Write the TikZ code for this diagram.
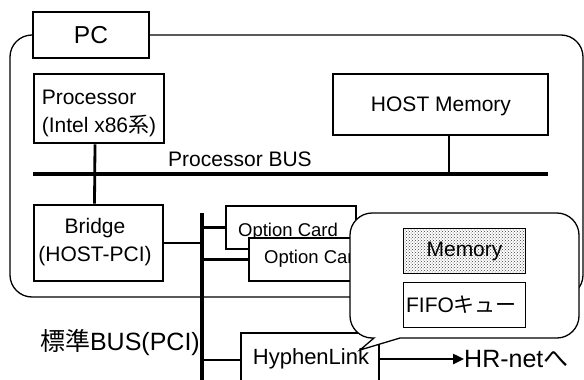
\documentclass[tikz,border=0pt]{standalone}
\usepackage{fontspec}
\setmainfont{Liberation Sans}
\newfontfamily\jpfont{Noto Sans CJK JP}
\usetikzlibrary{patterns,arrows.meta}

\begin{document}
\begin{tikzpicture}[x=1pt,y=-1pt,
  frame/.style={draw, line width=1.3pt},
  hwbox/.style={draw, line width=2.7pt, fill=white, inner sep=0pt},
  subbox/.style={draw, line width=1.6pt, inner sep=0pt},
  bus/.style={line width=4.5pt},
  link/.style={line width=2.8pt},
  txt/.style={inner sep=0pt, font=\fontsize{21}{28}\selectfont},
  small/.style={inner sep=0pt, font=\fontsize{18.5}{22}\selectfont},
  big/.style={inner sep=0pt, font=\fontsize{25}{30}\selectfont},
]
\useasboundingbox (0,0) rectangle (584,380);

% PC enclosure and its tab
\node[frame, rounded corners=22pt, minimum width=573pt, minimum height=262pt] (pc) at (296.5,166) {};
\node[draw, line width=1.5pt, fill=white, minimum width=116pt, minimum height=46pt, inner sep=0pt,
      font=\fontsize{24.5}{28}\selectfont] (pctab) at (91,35) {PC};

% processor side
\node[hwbox, minimum width=130pt, minimum height=69pt] (proc) at (99,108.5) {};
\node[txt, align=left] (proctext) at (99,113) {Processor\\(Intel x86{\jpfont 系})};
\node[hwbox, minimum width=215pt, minimum height=61pt] (hostmem) at (440.5,104.5) {};
\node[txt] (hosttext) at (441,106) {HOST Memory};

\coordinate (pbusL) at (33,174);
\coordinate (pbusR) at (548,174);
\node[txt] (pbuslabel) at (240,159) {Processor BUS};

% bridge
\node[hwbox, minimum width=129pt, minimum height=76pt] (bridge) at (98.5,243) {};
\node[txt, align=center] (bridgetext) at (95,242) {Bridge\\(HOST-PCI)};

\draw[link] ([xshift=-4pt]proc.south) -- ([xshift=-4pt]bridge.north);
\draw[link] ([xshift=8.5pt]hostmem.south) -- ([xshift=8.5pt]hostmem.south |- pbusR);
\draw[bus] (pbusL) -- (pbusR);

% PCI bus
\coordinate (pcitop) at (202,213);
\coordinate (pcibot) at (202,386);

% option cards (the second one overlaps the first)
\node[hwbox, minimum width=130pt, minimum height=43pt] (card1) at (291,227.5) {};
\node[small] (card1text) at (288,231.5) {Option Card};
\node[hwbox, minimum width=130pt, minimum height=43pt] (card2) at (314,259.5) {};
\node[small] (card2text) at (314,259) {Option Card};

% HyphenLink board
\node[hwbox, minimum width=138pt, minimum height=54pt] (hl) at (310,360) {};
\node[inner sep=0pt, font=\fontsize{22}{26}\selectfont] (hltext) at (311,359) {HyphenLink};

\draw[link] (bridge.east) -- (bridge.east -| pcitop);
\draw[link] (pcitop |- card1.west) -- (card1.west);
\draw[link] (pcitop |- card2.west) -- (card2.west);
\draw[link] (pcitop |- hl.west) -- (hl.west);
\draw[bus] (pcitop) -- (pcibot);

\node[big, anchor=east] (pcilabel) at (200,343) {{\jpfont 標準}BUS(PCI)};

% callout showing the board contents
\draw[line width=1.3pt, fill=white]
  (372,213) -- (557,213) .. controls (569,213) and (579,223) .. (579,235)
  -- (579,316) .. controls (579,328) and (569,338) .. (557,338)
  -- (400,338) -- (360,350) -- (374,338) -- (372,338)
  .. controls (360,338) and (350,328) .. (350,316)
  -- (350,235) .. controls (350,223) and (360,213) .. (372,213) -- cycle;

\node[subbox, pattern=crosshatch dots, pattern color=black!75, minimum width=122pt, minimum height=45pt] (mem) at (464.5,251) {};
\node[txt] (memtext) at (464.5,251) {Memory};
\node[subbox, minimum width=122pt, minimum height=45pt] (fifo) at (464.5,305) {};
\node[txt] (fifotext) at (461.5,305) {FIFO{\jpfont キュー}};

% link to the network
\node[big, anchor=west] (hrnet) at (464,359) {HR-net{\jpfont へ}};
\draw[line width=2.4pt, -{Triangle[length=11pt,width=10pt]}] (hl.east |- hltext) -- (hrnet.west);
\end{tikzpicture}
\end{document}
